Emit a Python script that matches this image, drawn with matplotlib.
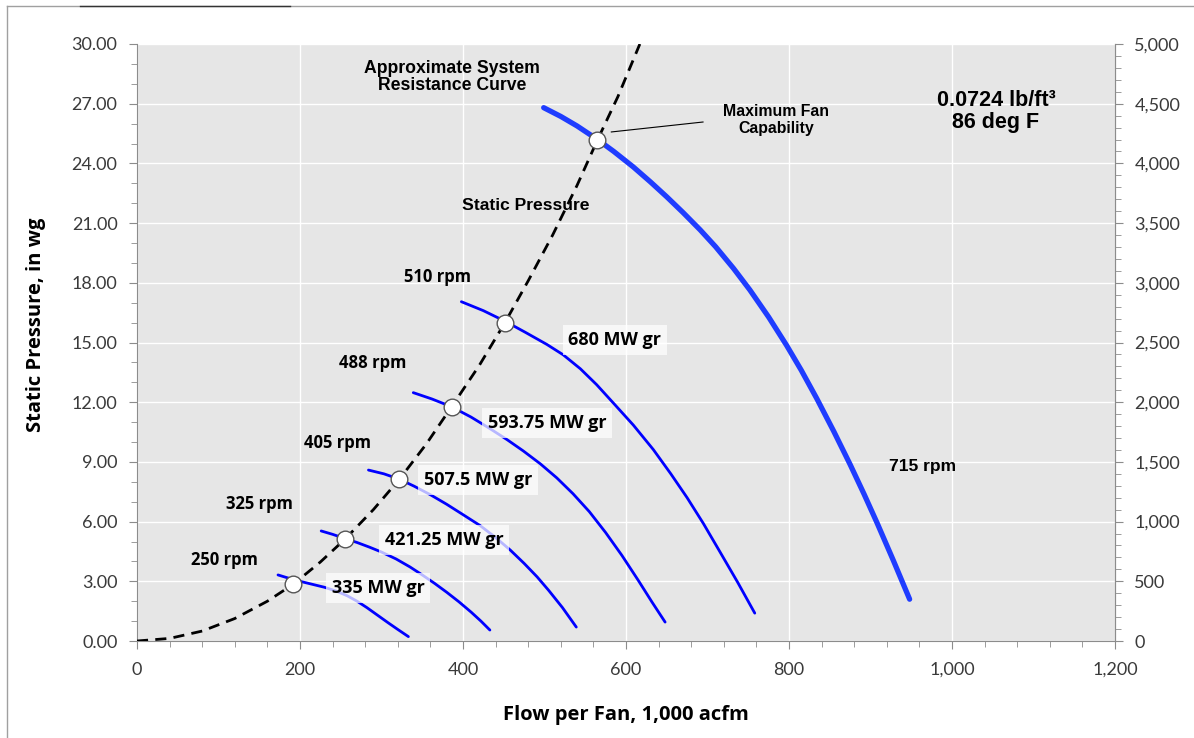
import matplotlib
matplotlib.use("Agg")
import matplotlib.pyplot as plt
from matplotlib.ticker import MultipleLocator, FuncFormatter
from matplotlib.lines import Line2D

# System resistance curve (flow in 1,000 acfm, static pressure in wg)
sys_flow = [0, 40, 80, 120, 160, 192, 225, 255, 290, 322, 355, 386, 420, 451.5,
            480, 510, 540, 565, 590, 617]
sys_sp = [0, 0.13, 0.5, 1.13, 2.0, 2.86, 3.97, 5.11, 6.6, 8.13, 9.9, 11.77, 13.85, 16.0,
          18.1, 20.4, 22.9, 25.18, 27.35, 30.0]

# Operating points on the system curve
op_flow = [192, 255, 322, 386, 451.5, 565]
op_sp = [2.86, 5.11, 8.13, 11.77, 16.0, 25.18]

# Fan curves at each speed
fan_250_flow = [173, 185, 200, 215, 230, 245, 258, 270, 282, 295, 308, 320, 333]
fan_250_sp = [3.32, 3.17, 3.0, 2.85, 2.7, 2.5, 2.27, 2.0, 1.68, 1.3, 0.92, 0.58, 0.22]

fan_325_flow = [226, 240, 255, 270, 285, 300, 318, 335, 350, 365, 380, 395, 410, 422, 433]
fan_325_sp = [5.53, 5.36, 5.15, 4.95, 4.72, 4.47, 4.12, 3.72, 3.32, 2.9, 2.45, 1.97,
              1.45, 1.0, 0.55]

fan_405_flow = [284, 303, 322, 340, 360, 380, 400, 421, 440, 458, 475, 491, 505, 522, 539]
fan_405_sp = [8.59, 8.4, 8.13, 7.78, 7.35, 6.87, 6.35, 5.8, 5.2, 4.57, 3.9, 3.22, 2.55,
              1.68, 0.7]

fan_488_flow = [339, 362, 386, 410, 432, 454, 474, 495, 515, 535, 555, 575, 595, 615,
                632, 648]
fan_488_sp = [12.48, 12.16, 11.77, 11.25, 10.7, 10.12, 9.55, 8.9, 8.2, 7.4, 6.5, 5.45,
              4.3, 3.05, 1.95, 0.95]

fan_510_flow = [398, 425, 451.5, 477, 503, 523, 544, 564, 584, 609, 633.5, 655, 675, 695,
                715, 737, 758]
fan_510_sp = [17.05, 16.6, 16.07, 15.5, 14.9, 14.38, 13.68, 12.88, 11.98, 10.85, 9.62,
              8.4, 7.2, 5.9, 4.5, 2.95, 1.4]

fan_715_flow = [499, 520, 540, 565, 585, 609, 630, 650, 670, 691, 710, 732, 752, 775, 797,
                815, 834, 855, 875, 892, 908, 928, 948]
fan_715_sp = [26.8, 26.36, 25.88, 25.2, 24.6, 23.82, 23.07, 22.32, 21.53, 20.66, 19.81,
              18.72, 17.64, 16.28, 14.86, 13.61, 12.19, 10.53, 8.87, 7.39, 5.94, 4.05, 2.1]

rpm_labels = ["250 rpm", "325 rpm", "405 rpm", "488 rpm", "510 rpm", "715 rpm"]
mw_labels = ["335 MW gr", "421.25 MW gr", "507.5 MW gr", "593.75 MW gr", "680 MW gr"]

fig = plt.figure(figsize=(11.94, 7.38), dpi=100)
ax = fig.add_axes([137 / 1194, 1 - 641 / 738, (1115 - 137) / 1194, (641 - 44) / 738])
ax.set_facecolor("#e6e6e6")

ax.set_xlim(0, 1200)
ax.set_ylim(0, 30)
ax.xaxis.set_major_locator(MultipleLocator(200))
ax.xaxis.set_minor_locator(MultipleLocator(40))
ax.yaxis.set_major_locator(MultipleLocator(3))
ax.yaxis.set_minor_locator(MultipleLocator(1))
ax.xaxis.set_major_formatter(FuncFormatter(lambda v, p: f"{v:,.0f}"))
ax.yaxis.set_major_formatter(FuncFormatter(lambda v, p: f"{v:.2f}"))
ax.grid(True, which="major", color="white", linewidth=1.0)
ax.set_axisbelow(True)

tick_font = "Lato"
tick_color = "#3a3a3a"
grey = "#8c8c8c"
ax.spines["top"].set_visible(False)
for s in ["left", "bottom", "right"]:
    ax.spines[s].set_color(grey)
ax.tick_params(which="both", direction="out", color=grey, labelsize=13,
               labelcolor=tick_color)
ax.tick_params(which="major", length=6)
ax.tick_params(which="minor", length=4)
ax.tick_params(axis="x", pad=9)
ax.tick_params(axis="y", pad=8)
for lab in ax.get_xticklabels() + ax.get_yticklabels():
    lab.set_fontfamily(tick_font)

ax2 = ax.twinx()
ax2.set_ylim(0, 5000)
ax2.yaxis.set_major_locator(MultipleLocator(500))
ax2.yaxis.set_minor_locator(MultipleLocator(100))
ax2.yaxis.set_major_formatter(FuncFormatter(lambda v, p: f"{v:,.0f}"))
ax2.tick_params(which="both", direction="out", color=grey, labelsize=13,
                labelcolor=tick_color, pad=8)
ax2.tick_params(which="major", length=6)
ax2.tick_params(which="minor", length=4)
for s in ["top", "left", "bottom"]:
    ax2.spines[s].set_visible(False)
ax2.spines["right"].set_color(grey)
for lab in ax2.get_yticklabels():
    lab.set_fontfamily(tick_font)

ax.set_xlabel("Flow per Fan, 1,000 acfm", fontfamily="Open Sans", fontweight="bold",
              fontsize=14.5)
ax.set_ylabel("Static Pressure, in wg", fontfamily="Open Sans", fontweight="bold",
              fontsize=14.5)
ax.xaxis.set_label_coords(0.5, -0.108)
ax.yaxis.set_label_coords(-0.093, 0.53)

# Fan curves
thin = dict(color="#0000ff", linewidth=2.0, solid_capstyle="round",
            solid_joinstyle="round", zorder=3)
for fx, fy in [(fan_250_flow, fan_250_sp), (fan_325_flow, fan_325_sp),
               (fan_405_flow, fan_405_sp), (fan_488_flow, fan_488_sp),
               (fan_510_flow, fan_510_sp)]:
    ax.plot(fx, fy, **thin)
ax.plot(fan_715_flow, fan_715_sp, color="#1f3cff", linewidth=3.8,
        solid_capstyle="round", solid_joinstyle="round", zorder=3)

# System curve
ax.plot(sys_flow, sys_sp, color="black", linewidth=2.0, dashes=(4, 2.6), zorder=4)

# Operating points
ax.plot(op_flow, op_sp, linestyle="none", marker="o", markersize=12,
        markerfacecolor="white", markeredgecolor="#555555", markeredgewidth=1.0, zorder=5)

arial_b = dict(fontfamily="Liberation Sans", fontweight="bold", color="black")
cal_b = dict(fontfamily="Open Sans", fontweight="bold", color="black")

ax.text(386.5, 28.34, "Approximate System\nResistance Curve", ha="center", va="center",
        fontsize=12.7, linespacing=1.0, **arial_b)
ax.text(477, 21.9, "Static Pressure", ha="center", va="center", fontsize=12.6, **arial_b)
ax.text(784, 26.18, "Maximum Fan\nCapability", ha="center", va="center",
        fontsize=11.4, linespacing=1.1, **arial_b)
ax.add_line(Line2D([582, 694.5], [25.58, 26.08], color="black", linewidth=0.8, zorder=6))
ax.text(1054, 26.6, "0.0724 lb/ft³\n86 deg F", ha="center", va="center",
        fontsize=15.5, linespacing=1.1, **arial_b)
ax.text(964.4, 8.79, rpm_labels[5], ha="center", va="center", fontsize=12.6, **arial_b)

rpm_pos = [(106.7, 4.07), (149.7, 6.88), (245.4, 9.95), (289.6, 13.97), (369, 18.29)]
for (px, py), lab in zip(rpm_pos, rpm_labels[:5]):
    ax.text(px, py, lab, ha="center", va="center", fontsize=12, **cal_b)

mw_pos = [(295.7, 2.66), (376.7, 5.08), (418.4, 8.09), (503, 10.95), (586.5, 15.13)]
for (px, py), lab in zip(mw_pos, mw_labels):
    ax.text(px, py, lab, ha="center", va="center", fontsize=13, zorder=6,
            bbox=dict(boxstyle="square,pad=0.32", facecolor="white", alpha=0.72,
                      edgecolor="none"), **cal_b)

# Outer frame
fig.add_artist(Line2D([7 / 1194, 1], [1 - 6 / 738, 1 - 6 / 738], color="#a0a0a0",
                      linewidth=1.0, transform=fig.transFigure))
fig.add_artist(Line2D([80 / 1194, 290 / 1194], [1 - 6 / 738, 1 - 6 / 738], color="#333333",
                      linewidth=1.0, transform=fig.transFigure))
fig.add_artist(Line2D([7 / 1194, 7 / 1194], [0, 1 - 6 / 738], color="#a0a0a0",
                      linewidth=1.0, transform=fig.transFigure))

fig.savefig("out.png", dpi=100)
